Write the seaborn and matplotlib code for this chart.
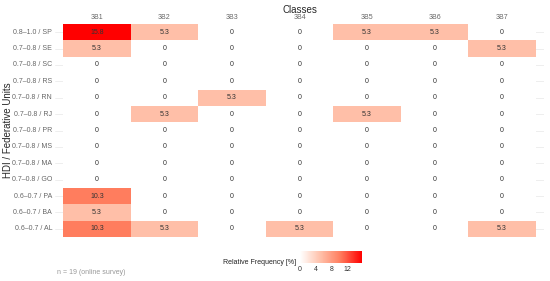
import numpy as np
import pandas as pd
import matplotlib
matplotlib.use("Agg")
import matplotlib.pyplot as plt
import seaborn as sns
from matplotlib.colors import LinearSegmentedColormap

classes = ["3B1", "3B2", "3B3", "3B4", "3B5", "3B6", "3B7"]
units = ["0.8–1.0 / SP", "0.7–0.8 / SE", "0.7–0.8 / SC", "0.7–0.8 / RS",
         "0.7–0.8 / RN", "0.7–0.8 / RJ", "0.7–0.8 / PR", "0.7–0.8 / MS",
         "0.7–0.8 / MA", "0.7–0.8 / GO", "0.6–0.7 / PA", "0.6–0.7 / BA",
         "0.6–0.7 / AL"]
col_3b1 = [15.8, 5.3, 0, 0, 0, 0, 0, 0, 0, 0, 10.3, 5.3, 10.3]
col_3b2 = [5.3, 0, 0, 0, 0, 5.3, 0, 0, 0, 0, 0, 0, 5.3]
col_3b3 = [0, 0, 0, 0, 5.3, 0, 0, 0, 0, 0, 0, 0, 0]
col_3b4 = [0, 0, 0, 0, 0, 0, 0, 0, 0, 0, 0, 0, 5.3]
col_3b5 = [5.3, 0, 0, 0, 0, 5.3, 0, 0, 0, 0, 0, 0, 0]
col_3b6 = [5.3, 0, 0, 0, 0, 0, 0, 0, 0, 0, 0, 0, 0]
col_3b7 = [0, 5.3, 0, 0, 0, 0, 0, 0, 0, 0, 0, 0, 5.3]

df = pd.DataFrame({"3B1": col_3b1, "3B2": col_3b2, "3B3": col_3b3, "3B4": col_3b4,
                   "3B5": col_3b5, "3B6": col_3b6, "3B7": col_3b7}, index=units)
vmax = df.values.max()

# white -> red, roughly like ggplot's Lab gradient
cmap = LinearSegmentedColormap.from_list(
    "wr", [(0, "#ffffff"), (0.335, "#ffbfa8"), (0.65, "#ff7d5e"), (1, "#ff0000")])

sns.set_style("white")
plt.rcParams["font.family"] = ["Liberation Sans", "DejaVu Sans"]

fig = plt.figure(figsize=(5.5, 2.81), dpi=100)
ax = fig.add_axes([55 / 550, 1 - 237 / 281, 489 / 550, 213 / 281])
cax = fig.add_axes([300 / 550, 1 - 263 / 281, 62 / 550, 12 / 281])

annot = df.map(lambda v: f"{v:g}")
sns.heatmap(df, ax=ax, cmap=cmap, vmin=0, vmax=vmax, annot=annot, fmt="",
            annot_kws={"fontsize": 5, "color": "#333333"},
            cbar_ax=cax, cbar_kws={"orientation": "horizontal"})

# faint grid lines in the panel expansion
ax.set_xlim(-0.12, len(classes) + 0.12)
for i in range(len(units)):
    ax.axhline(i + 0.5, color="#ebebeb", lw=0.6, zorder=0)
for c in ax.collections:
    c.set_zorder(1)

ax.xaxis.tick_top()
ax.xaxis.set_label_position("top")
ax.tick_params(axis="both", length=0, labelsize=5, colors="#666666", pad=2)
ax.set_xticklabels(classes, rotation=0)
ax.set_yticklabels(units, rotation=0)
ax.set_xlabel("Classes", fontsize=7, labelpad=1)
ax.set_ylabel("")
fig.text(8 / 550, 1 - 130 / 281, "HDI / Federative Units", fontsize=7,
         rotation=90, ha="center", va="center")
for s in ax.spines.values():
    s.set_visible(False)

cb = ax.collections[0].colorbar
cb.set_ticks([0, 4, 8, 12])
cb.outline.set_visible(False)
cax.tick_params(length=0, labelsize=5, colors="#333333", pad=2)
fig.text(296 / 550, 1 - 262 / 281, "Relative Frequency [%]", fontsize=5,
         ha="right", va="center", color="#222222")

fig.text(57 / 550, 1 - 272 / 281, "n = 19 (online survey)", fontsize=5,
         color="#999999", va="center")

fig.savefig("out.png", dpi=100)
